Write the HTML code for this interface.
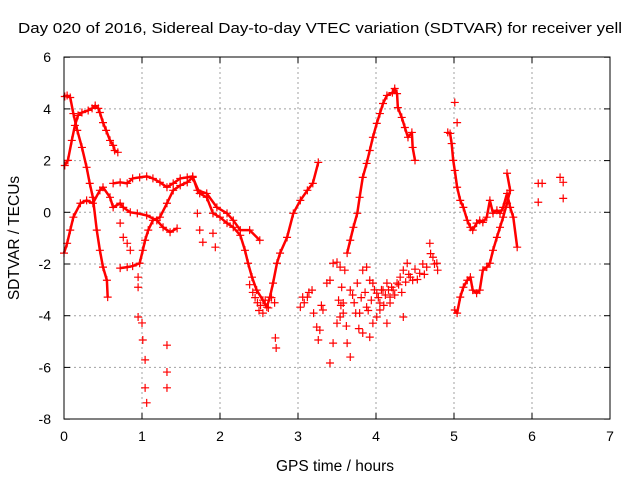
<!DOCTYPE html>
<html><head><meta charset="utf-8"><style>
html,body{margin:0;padding:0;background:#fff;}
svg{display:block;font-family:"Liberation Sans",sans-serif;}
</style></head><body>
<svg id="chart" width="640" height="480" viewBox="0 0 640 480">
<text x="18" y="33" font-size="15" textLength="604" lengthAdjust="spacingAndGlyphs">Day 020 of 2016, Sidereal Day-to-day VTEC variation (SDTVAR) for receiver yell</text>
<text transform="translate(19,238) rotate(-90)" font-size="15.5" text-anchor="middle">SDTVAR / TECUs</text>
<text x="335" y="471" font-size="15.5" text-anchor="middle">GPS time / hours</text>
<g id="grid"></g>
<g id="ticks"></g>
<g id="marks"></g>
<rect x="64" y="57" width="546" height="362" fill="none" stroke="#000" stroke-width="1"/>
</svg>
<script>
const xTicks=[0,1,2,3,4,5,6,7];
const yTicks=[-8,-6,-4,-2,0,2,4,6];
// tracks (hours, TECU)
const t1H=[.01,.05,.10,.14,.18,.23,.31,.36,.40,.44,.46,.50,.54,.59,.63,.65,.69];
const t1V=[1.81,2.01,2.78,3.36,3.75,3.86,3.94,4.02,4.13,4.02,3.86,3.47,3.17,2.78,2.59,2.39,2.32];
const t2H=[.01,.04,.08,.12,.17,.23,.29,.33,.37,.42,.46,.50,.55,.56];
const t2V=[4.48,4.52,4.44,3.82,3.17,2.51,1.74,1.12,0.58,-0.69,-1.47,-2.12,-2.63,-3.28];
const mH=[0,.04,.08,.12,.21,.29,.37,.46,.50,.59,.63,.72,.76,.85,.94,1.06,1.19,1.27,1.36,1.45];
const mV=[-1.58,-1.2,-0.69,-0.19,0.35,0.46,0.35,0.85,0.97,0.58,0.19,0.35,0.19,0,-0.04,-0.12,-0.31,-0.58,-0.77,-0.62];
const uH=[.63,.72,.81,.88,.97,1.06,1.14,1.23,1.32,1.40,1.49,1.58,1.65,1.71,1.83,1.96,2.09,2.17,2.26,2.38,2.51];
const uV=[1.12,1.16,1.12,1.31,1.35,1.39,1.31,1.16,0.97,1.12,1.31,1.35,1.39,0.85,0.73,0.19,-0.04,-0.31,-0.69,-0.69,-1.08];
const rH=[.72,.81,.88,.97,1.01,1.04,1.08,1.14,1.23,1.32,1.40,1.49,1.58,1.65,1.74,1.83,1.91,2.0,2.09,2.17,2.26,2.32,2.36,2.41,2.47,2.55,2.60,2.64,2.68,2.73,2.77,2.86,2.94,3.03,3.12,3.19,3.26];
const rV=[-2.16,-2.12,-2.08,-1.97,-1.47,-1.08,-0.69,-0.31,-0.19,0.35,0.85,1.04,1.16,1.35,0.73,0.58,-0.04,-0.19,-0.42,-0.58,-0.89,-1.47,-1.97,-2.51,-3.01,-3.4,-3.67,-3.28,-2.74,-1.97,-1.58,-0.97,-0.04,0.46,0.85,1.12,1.93];
const pH=[3.63,3.67,3.71,3.76,3.79,3.83,3.88,3.92,3.96,4.01,4.05,4.09,4.14,4.21,4.24,4.27,4.28,4.33,4.37,4.41,4.46,4.47,4.50];
const pV=[-1.58,-1.08,-0.58,-0.04,0.58,1.35,1.89,2.39,2.9,3.44,3.82,4.21,4.52,4.63,4.79,4.59,4.05,3.67,3.28,2.9,3.09,2.51,2.01];
const e1H=[4.92,4.95,4.97,4.99,5.01,5.04,5.08,5.12,5.17,5.21,5.24,5.29,5.33,5.37,5.42,5.46,5.5,5.55,5.59,5.63,5.68,5.72,5.76,5.81];
const e1V=[3.09,3.05,2.66,2.01,1.62,0.97,0.46,0.19,-0.31,-0.58,-0.69,-0.42,-0.31,-0.39,-0.19,0.46,-0.04,0.08,-0.04,0.19,0.73,0.19,-0.19,-1.35];
const e2H=[5.01,5.04,5.08,5.12,5.17,5.21,5.24,5.29,5.33,5.37,5.42,5.46,5.5,5.55,5.59,5.63,5.68,5.72,5.68];
const e2V=[-3.78,-3.9,-3.28,-2.9,-2.63,-2.51,-3.01,-3.13,-3.01,-2.24,-2.12,-1.97,-1.47,-0.97,-0.58,-0.19,0.35,0.85,1.51];
// scattered points
const sH=[.95,.95,.95,1.0,1.01,1.04,1.04,1.06,1.32,1.32,1.32,1.71,1.74,1.78,1.91,1.94,.72,.76,.81,.85,2.71,2.72,5.01,5.04,6.08,6.13,6.08,6.36,6.4,6.4,
3.03,3.06,3.12,3.18,3.24,3.28,3.32,3.26,3.37,3.41,3.45,3.5,3.54,3.56,3.6,3.41,3.45,3.5,3.54,3.58,3.63,3.67,3.67,3.76,3.83,3.88,3.92,3.96,4.01,4.05,4.09,4.14,4.18,4.22,4.27,4.31,4.35,4.4,4.44,4.47,4.56,4.65,4.69,4.73,4.78,4.79,3.79,3.83,3.92,4.01,4.05,4.14,4.18,4.35,3.88,3.96,
3.52,3.55,3.58,3.62,3.7,3.72,3.74,3.78,3.81,3.86,3.9,3.94,3.98,4.03,4.07,4.1,4.12,4.16,4.2,4.24,4.29,4.33,4.38,4.42,4.5,4.53,4.6,4.62,4.7,4.75,
2.38,2.42,2.45,2.48,2.5,2.52,2.55,2.58,2.62,2.66,2.7,3.08,3.14,3.2,3.3];
const sV=[-2.51,-2.9,-4.05,-4.28,-4.94,-5.71,-6.79,-7.37,-5.14,-6.18,-6.79,-0.04,-0.69,-1.16,-0.81,-1.35,-0.42,-0.97,-1.2,-1.47,-4.86,-5.25,4.25,3.47,1.12,1.12,0.39,1.35,1.16,0.54,
-3.67,-3.28,-3.28,-3.01,-4.44,-4.56,-3.78,-4.94,-2.74,-2.63,-1.97,-1.93,-2.12,-2.9,-2.24,-5.83,-5.06,-4.29,-4.05,-3.51,-5.06,-5.6,-3.01,-2.74,-2.24,-2.12,-2.63,-2.74,-3.13,-3.51,-3.01,-2.74,-3.28,-3.01,-2.74,-2.51,-2.24,-1.97,-2.51,-2.63,-2.36,-2.12,-1.2,-1.74,-1.97,-2.24,-3.9,-4.67,-4.83,-4.05,-3.78,-4.29,-3.51,-4.05,-3.67,-4.29,
-3.4,-3.6,-3.9,-4.4,-3.2,-3.5,-3.9,-4.5,-3.3,-3.1,-3.8,-3.4,-3.0,-3.3,-3.0,-3.6,-3.2,-3.0,-2.9,-3.2,-2.8,-3.1,-2.7,-2.4,-2.2,-2.6,-2.0,-2.4,-1.6,-2.0,
-2.8,-3.1,-3.3,-3.5,-3.8,-3.6,-3.9,-3.4,-3.7,-3.3,-3.5,-3.5,-3.1,-3.9,-3.6];

const NS='http://www.w3.org/2000/svg';
const X0=64,XS=78,Y0=212.3,YS=25.85;
function xs(h){return X0+h*XS;}
function ys(v){return Y0-v*YS;}
function mk(tag,attrs,parent){const e=document.createElementNS(NS,tag);for(const k in attrs)e.setAttribute(k,attrs[k]);parent.appendChild(e);return e;}
const grid=document.getElementById('grid'),ticks=document.getElementById('ticks'),marks=document.getElementById('marks');
xTicks.forEach(t=>{
  const x=xs(t);
  if(t>0&&t<7){const g=mk('line',{x1:x,x2:x,y1:57,y2:419,stroke:'#a0a0a0','stroke-dasharray':'2,3'},grid);
  
  }
  mk('line',{x1:x,x2:x,y1:419,y2:413,stroke:'#000'},ticks);
  mk('line',{x1:x,x2:x,y1:57,y2:63,stroke:'#000'},ticks);
  const l=mk('text',{x:x,y:441,'font-size':'14','text-anchor':'middle'},ticks);l.textContent=t;
  
  
});
yTicks.forEach(t=>{
  const y=ys(t);
  if(t>-8&&t<6){const g=mk('line',{x1:64,x2:610,y1:y,y2:y,stroke:'#a0a0a0','stroke-dasharray':'2,3'},grid);
  
  }
  mk('line',{x1:64,x2:70,y1:y,y2:y,stroke:'#000'},ticks);
  mk('line',{x1:610,x2:604,y1:y,y2:y,stroke:'#000'},ticks);
  const l=mk('text',{x:51,y:y+5,'font-size':'14','text-anchor':'end'},ticks);l.textContent=t;
  
  
});
function plus(h,v){
  const x=xs(h),y=ys(v);
  const p=mk('path',{d:`M${x-4},${y}H${x+4}M${x},${y-4}V${y+4}`,stroke:'#f00','stroke-width':'1.2',fill:'none'},marks);
  
  
}
const tracks=[[t1H,t1V],[t2H,t2V],[mH,mV],[uH,uV],[rH,rV],[pH,pV],[e1H,e1V],[e2H,e2V]];
tracks.forEach(([H,V])=>{
  const pts=H.map((h,i)=>xs(h)+','+ys(V[i])).join(' ');
  const pl=mk('polyline',{points:pts,fill:'none',stroke:'#f00','stroke-width':'2.5','stroke-linejoin':'round'},marks);
  
  
  H.forEach((h,i)=>plus(h,V[i]));
});
sH.forEach((h,i)=>plus(h,sV[i]));
</script>
</body></html>
